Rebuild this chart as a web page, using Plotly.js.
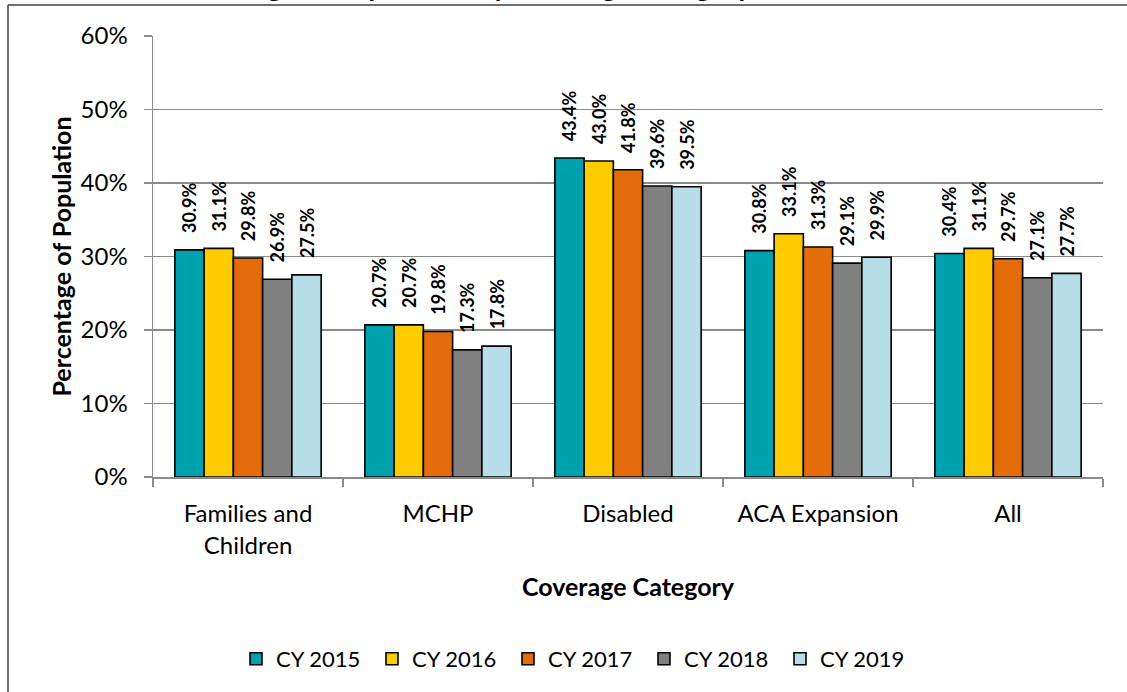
<!DOCTYPE html>
<html><head><meta charset="utf-8">
<script src="https://cdn.plot.ly/plotly-3.0.1.min.js"></script>
<style>html,body{margin:0;padding:0;background:#fff}#chart{width:1127px;height:692px}</style>
</head><body><div id="chart"></div>
<script>
// ---- data ----
const categories = ['Families and<br>Children', 'MCHP', 'Disabled', 'ACA Expansion', 'All'];
const seriesNames = ['CY 2015', 'CY 2016', 'CY 2017', 'CY 2018', 'CY 2019'];
const cy2015 = [0.309, 0.207, 0.434, 0.308, 0.304];
const cy2016 = [0.311, 0.207, 0.430, 0.331, 0.311];
const cy2017 = [0.298, 0.198, 0.418, 0.313, 0.297];
const cy2018 = [0.269, 0.173, 0.396, 0.291, 0.271];
const cy2019 = [0.275, 0.178, 0.395, 0.299, 0.277];
const yTickVals = [0, 0.1, 0.2, 0.3, 0.4, 0.5, 0.6];
const chartTitle = 'Percentage of Population by Coverage Category, CY 2015–CY 2019';
const xTitle = 'Coverage Category';
const yTitle = 'Percentage of Population';

// ---- styles ----
const colors = ['#00A1AF', '#FFCC00', '#E46C0A', '#808080', '#B7DEE8'];
const FONT = 'Lato, "Open Sans", sans-serif';
const GRID = '#8A8A8A';
const W = 1127, H = 692;
const M = {l: 153, r: 24, t: 36, b: 215};
const pw = W - M.l - M.r, ph = H - M.t - M.b;
const px2x = p => (p - M.l) / pw;
const py2y = p => (H - M.b - p) / ph;

const allSeries = [cy2015, cy2016, cy2017, cy2018, cy2019];
const traces = allSeries.map((vals, i) => ({
  type: 'bar',
  name: seriesNames[i],
  x: categories,
  y: vals,
  marker: {color: colors[i], line: {color: '#000', width: 1.6}},
  texttemplate: '\u00a0\u00a0\u00a0<b>%{y:.1%}</b>',
  textposition: 'outside',
  textangle: -90,
  constraintext: 'none',
  cliponaxis: false,
  textfont: {family: FONT, size: 18, color: '#000'},
  hoverinfo: 'skip'
}));

const layout = {
  width: W, height: H,
  margin: M,
  paper_bgcolor: '#fff', plot_bgcolor: '#fff',
  barmode: 'group', bargap: 0.23, bargroupgap: 0,
  font: {family: FONT, color: '#000'},
  showlegend: true,
  legend: {
    orientation: 'h', x: px2x(236), xanchor: 'left', y: py2y(659), yanchor: 'middle',
    font: {family: FONT, size: 22, color: '#000'},
    itemwidth: 30, traceorder: 'normal', entrywidth: 91, entrywidthmode: 'pixels'
  },
  xaxis: {
    type: 'category', tickson: 'boundaries', ticks: 'outside', ticklen: 8,
    tickcolor: GRID, tickwidth: 1.5, showline: true, linecolor: GRID, linewidth: 1.5,
    showgrid: false, tickfont: {family: FONT, size: 24, color: '#000'},
    ticklabelstandoff: 15,
    title: {text: xTitle, font: {family: FONT, size: 25, color: '#000', weight: 'bold'}, standoff: 21},
    automargin: false
  },
  yaxis: {
    range: [0, 0.6], tickvals: yTickVals, tickformat: '.0%',
    ticks: 'outside', ticklen: 8, tickcolor: GRID, tickwidth: 1.5,
    showline: true, linecolor: GRID, linewidth: 1.5,
    showgrid: true, gridcolor: GRID, gridwidth: 1.5, zeroline: false,
    tickfont: {family: FONT, size: 24, color: '#000'},
    ticklabelstandoff: 11,
    title: {text: yTitle, font: {family: FONT, size: 25, color: '#000', weight: 'bold'}, standoff: 2},
    automargin: false
  },
  annotations: [{
    text: chartTitle, xref: 'paper', yref: 'paper', x: px2x(576), y: py2y(3.5),
    xanchor: 'center', yanchor: 'bottom', showarrow: false,
    font: {family: FONT, size: 28, color: '#000', weight: 'bold'}
  }],
  shapes: [
    {type: 'line', xref: 'paper', yref: 'paper', x0: px2x(8), x1: px2x(8), y0: py2y(5), y1: py2y(700), line: {color: '#404040', width: 1.5}},
    {type: 'line', xref: 'paper', yref: 'paper', x0: px2x(8), x1: px2x(1140), y0: py2y(5), y1: py2y(5), line: {color: '#404040', width: 1.5}}
  ]
};

Plotly.newPlot('chart', traces, layout, {displayModeBar: false, staticPlot: true});
</script>
</body></html>
